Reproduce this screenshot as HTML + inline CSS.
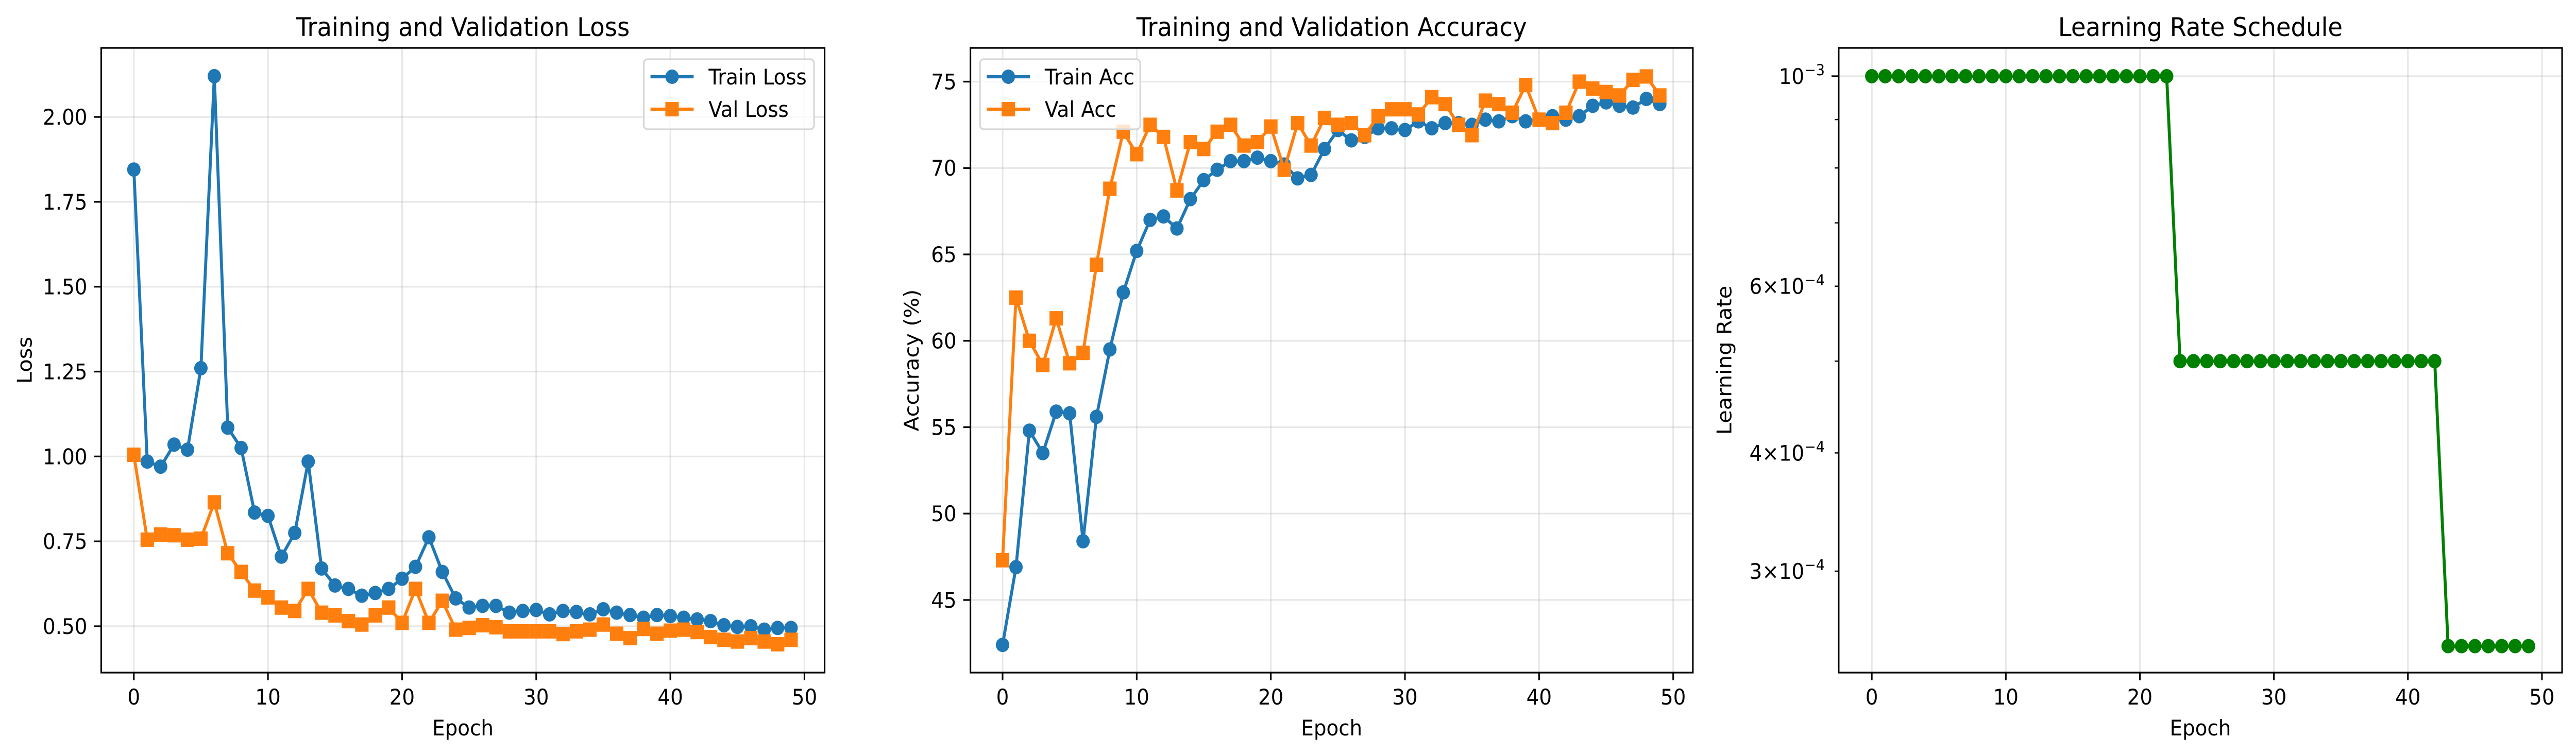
<!DOCTYPE html>
<html><head><meta charset="utf-8"><style>
html,body{margin:0;padding:0;background:#fff;overflow:hidden;width:100%;height:100%}
svg{display:block;font-family:"DejaVu Sans","Liberation Sans",sans-serif;width:100vw;height:100vh}
</style></head><body>
<svg id="chart" width="5370" height="1466" viewBox="0 0 5370 1466" preserveAspectRatio="none" xmlns="http://www.w3.org/2000/svg"></svg>
<script>
const epochs = Array.from({length:50},(_,i)=>i);
const trainLoss = [1.845,0.985,0.97,1.035,1.02,1.26,2.12,1.085,1.025,0.835,0.825,0.705,0.775,0.985,0.67,0.62,0.61,0.59,0.598,0.61,0.64,0.675,0.762,0.66,0.582,0.555,0.56,0.56,0.54,0.545,0.548,0.535,0.545,0.542,0.535,0.55,0.54,0.533,0.525,0.533,0.53,0.525,0.52,0.515,0.503,0.498,0.5,0.49,0.495,0.495];
const valLoss = [1.005,0.755,0.77,0.768,0.755,0.758,0.865,0.715,0.66,0.605,0.585,0.555,0.545,0.61,0.54,0.532,0.515,0.505,0.532,0.555,0.51,0.61,0.51,0.575,0.49,0.495,0.503,0.497,0.485,0.485,0.485,0.485,0.477,0.485,0.49,0.505,0.478,0.465,0.492,0.478,0.487,0.49,0.483,0.468,0.46,0.455,0.465,0.455,0.447,0.46];
const trainAcc = [42.4,46.9,54.8,53.5,55.9,55.8,48.4,55.6,59.5,62.8,65.2,67.0,67.2,66.5,68.2,69.3,69.9,70.4,70.4,70.6,70.4,70.2,69.4,69.6,71.1,72.2,71.6,71.8,72.3,72.3,72.2,72.7,72.3,72.6,72.6,72.5,72.8,72.7,73.0,72.7,72.8,73.0,72.8,73.0,73.6,73.8,73.6,73.5,74.0,73.7];
const valAcc = [47.3,62.5,60.0,58.6,61.3,58.7,59.3,64.4,68.8,72.1,70.8,72.5,71.8,68.7,71.5,71.1,72.1,72.5,71.3,71.5,72.4,69.9,72.6,71.3,72.9,72.5,72.6,71.9,73.0,73.4,73.4,73.1,74.1,73.7,72.5,71.9,73.9,73.7,73.2,74.8,72.8,72.6,73.2,75.0,74.6,74.4,74.2,75.1,75.3,74.2];
const lrVals = [0.001,0.001,0.001,0.001,0.001,0.001,0.001,0.001,0.001,0.001,0.001,0.001,0.001,0.001,0.001,0.001,0.001,0.001,0.001,0.001,0.001,0.001,0.001,0.0005,0.0005,0.0005,0.0005,0.0005,0.0005,0.0005,0.0005,0.0005,0.0005,0.0005,0.0005,0.0005,0.0005,0.0005,0.0005,0.0005,0.0005,0.0005,0.0005,0.00025,0.00025,0.00025,0.00025,0.00025,0.00025,0.00025];
const xTicks = [0,10,20,30,40,50];
const lossTicks = [0.5,0.75,1.0,1.25,1.5,1.75,2.0];
const lossTickLabels = ["0.50","0.75","1.00","1.25","1.50","1.75","2.00"];
const accTicks = [45,50,55,60,65,70,75];
const lrMinor = [0.0003,0.0004,0.0005,0.0006,0.0007,0.0008,0.0009];

const NS="http://www.w3.org/2000/svg";
const svg=document.getElementById('chart');
function el(tag,attrs,parent){const e=document.createElementNS(NS,tag);for(const k in attrs)e.setAttribute(k,attrs[k]);(parent||svg).appendChild(e);return e;}
const BLUE="#1f77b4",ORANGE="#ff7f0e",GREEN="#008000";
const TOP=93,BOT=1306,FS=41.7;

function panel(name,L,R,x0px,x50px,title,ylabel,ylabX){
  const g=el('g',{});
  
  
  const xs=e=>x0px+(x50px-x0px)*e/50;
  xTicks.forEach(t=>{
    const x=xs(t);
    const gl=el('line',{x1:x,x2:x,y1:TOP,y2:BOT,stroke:'#b0b0b0','stroke-opacity':0.3,'stroke-width':3.3},g);
    
    
    el('line',{x1:x,x2:x,y1:BOT,y2:BOT+15,stroke:'#000','stroke-width':3.3},g);
    const tx=el('text',{x:x,y:1368,'font-size':FS,'text-anchor':'middle'},g);
    tx.textContent=t;
    
    
  });
  const xl=el('text',{x:(L+R)/2,y:1428,'font-size':FS,'text-anchor':'middle'},g);
  xl.textContent='Epoch';
  
  
  const yl=el('text',{x:0,y:0,'font-size':FS,'text-anchor':'middle',transform:`translate(${ylabX},${(TOP+BOT)/2}) rotate(-90)`},g);
  yl.textContent=ylabel;
  
  
  const ti=el('text',{x:(L+R)/2,y:70,'font-size':50,'text-anchor':'middle'},g);
  ti.textContent=title;
  
  
  return {g,xs};
}
function series(g,xs,ys,vals,color,marker,name){
  const pts=vals.map((v,i)=>[xs(epochs[i]),ys(v)]);
  const pl=el('polyline',{points:pts.map(p=>p.join(',')).join(' '),fill:'none',stroke:color,'stroke-width':6.25,'stroke-linejoin':'round'},g);
  
  
  pts.forEach(p=>{
    let m;
    if(marker==='o') m=el('circle',{cx:p[0],cy:p[1],r:14,fill:color},g);
    else m=el('rect',{x:p[0]-14,y:p[1]-14,width:28,height:28,fill:color},g);
    
    
  });
}
function frame(g,L,R){
  el('rect',{x:L,y:TOP,width:R-L,height:BOT-TOP,fill:'none',stroke:'#000','stroke-width':3.3},g);
}
function legend(g,x,w,items){
  const lg=el('g',{},g);
  
  
  el('rect',{x:x,y:115,width:w,height:136,rx:8,fill:'#fff','fill-opacity':0.8,stroke:'#d6d6d6','stroke-width':3.3},lg);
  items.forEach((it,i)=>{
    const cy=149+i*63;
    el('line',{x1:x+14,x2:x+104,y1:cy,y2:cy,stroke:it.c,'stroke-width':6.25},lg);
    if(it.m==='o') el('circle',{cx:x+59,cy:cy,r:14,fill:it.c},lg);
    else el('rect',{x:x+45,y:cy-14,width:28,height:28,fill:it.c},lg);
    const t=el('text',{x:x+135,y:cy+15,'font-size':FS},lg);
    t.textContent=it.t;
    
    
  });
}
function yLabel(g,L,y,txt,sup){
  const t=el('text',{x:L-29,y:y+15,'font-size':FS,'text-anchor':'end'},g);
  if(sup){ t.textContent=txt; const s=el('tspan',{dy:-17,'font-size':29},t); s.textContent=sup; }
  else t.textContent=txt;
  
  
}

// Panel 1: loss
(function(){
  const L=211,R=1719;
  const {g,xs}=panel('loss-chart',L,R,279,1677,'Training and Validation Loss','Loss',66);
  const ys=v=>1216-(v-0.5)*659.3;
  lossTicks.forEach((t,i)=>{
    const y=ys(t);
    el('line',{x1:L,x2:R,y1:y,y2:y,stroke:'#b0b0b0','stroke-opacity':0.3,'stroke-width':3.3},g);
    el('line',{x1:L-15,x2:L,y1:y,y2:y,stroke:'#000','stroke-width':3.3},g);
    yLabel(g,L,y,lossTickLabels[i]);
  });
  series(g,xs,ys,trainLoss,BLUE,'o','train-loss');
  series(g,xs,ys,valLoss,ORANGE,'s','val-loss');
  frame(g,L,R);
  legend(g,1342,355,[{t:'Train Loss',c:BLUE,m:'o'},{t:'Val Loss',c:ORANGE,m:'s'}]);
})();

// Panel 2: accuracy
(function(){
  const L=2023,R=3529;
  const {g,xs}=panel('accuracy-chart',L,R,2090,3488,'Training and Validation Accuracy','Accuracy (%)',1915);
  const ys=v=>158.5+(75-v)*33.55;
  accTicks.forEach(t=>{
    const y=ys(t);
    el('line',{x1:L,x2:R,y1:y,y2:y,stroke:'#b0b0b0','stroke-opacity':0.3,'stroke-width':3.3},g);
    el('line',{x1:L-15,x2:L,y1:y,y2:y,stroke:'#000','stroke-width':3.3},g);
    yLabel(g,L,y,String(t));
  });
  series(g,xs,ys,trainAcc,BLUE,'o','train-acc');
  series(g,xs,ys,valAcc,ORANGE,'s','val-acc');
  frame(g,L,R);
  legend(g,2043,334,[{t:'Train Acc',c:BLUE,m:'o'},{t:'Val Acc',c:ORANGE,m:'s'}]);
})();

// Panel 3: learning rate (log)
(function(){
  const L=3833,R=5341;
  const {g,xs}=panel('learning-rate-chart',L,R,3902,5299,'Learning Rate Schedule','Learning Rate',3609);
  const ys=v=>148-Math.log10(v/0.001)*1838;
  const y=ys(0.001);
  el('line',{x1:L,x2:R,y1:y,y2:y,stroke:'#b0b0b0','stroke-opacity':0.3,'stroke-width':3.3},g);
  el('line',{x1:L-15,x2:L,y1:y,y2:y,stroke:'#000','stroke-width':3.3},g);
  yLabel(g,L,y,'10','\u22123');
  lrMinor.forEach(v=>{
    const yy=ys(v);
    el('line',{x1:L-8.5,x2:L,y1:yy,y2:yy,stroke:'#000','stroke-width':2.5},g);
    const m=Math.round(v*10000);
    if(m===3||m===4||m===6) yLabel(g,L,yy,m+'\u00d710','\u22124');
  });
  series(g,xs,ys,lrVals,GREEN,'o','learning-rate');
  frame(g,L,R);
})();
</script>
</body></html>
